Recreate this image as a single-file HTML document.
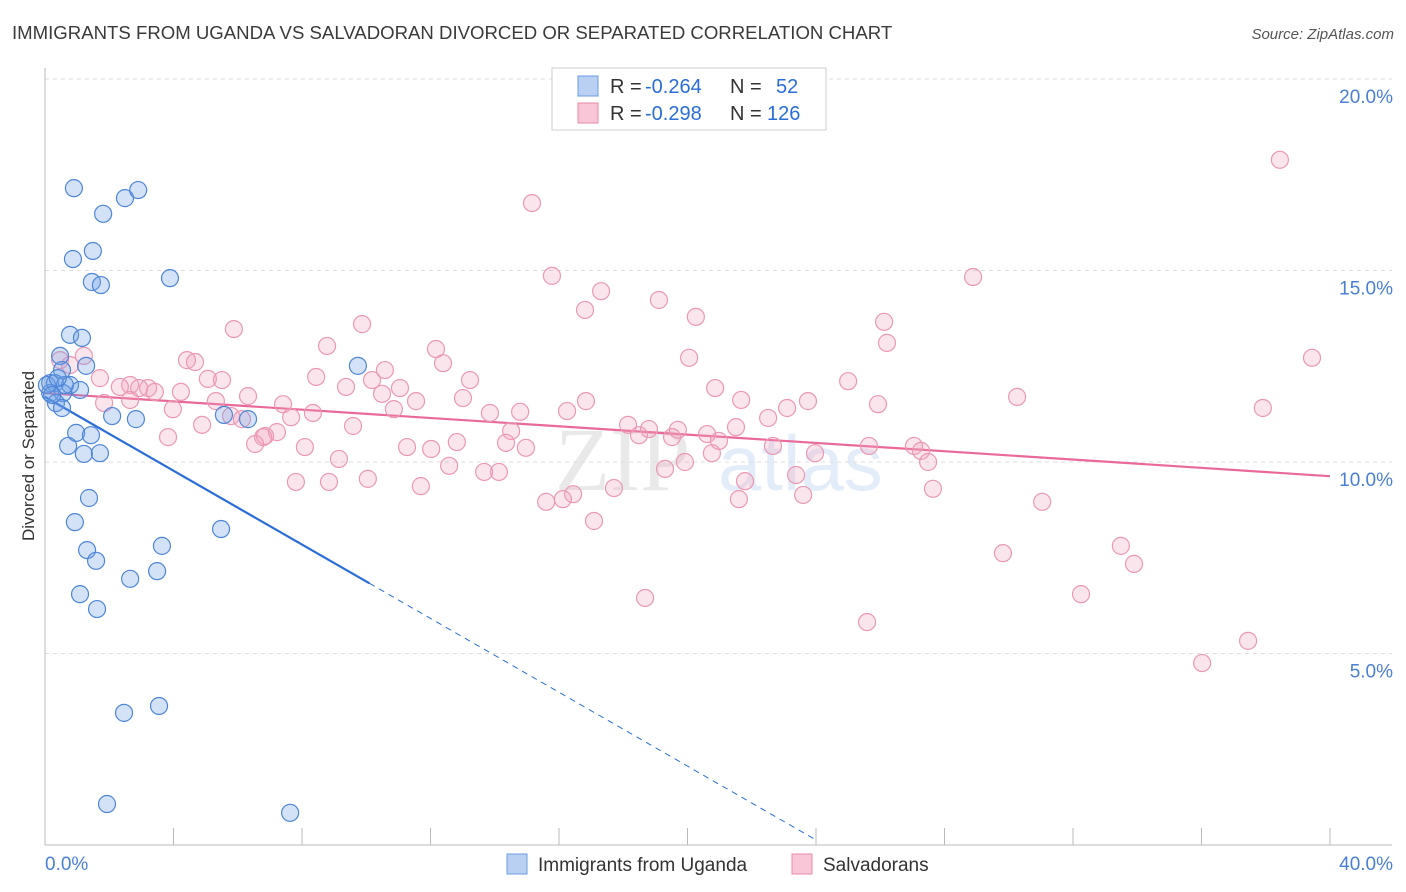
<!DOCTYPE html>
<html><head><meta charset="utf-8"><style>
body{margin:0;background:#fff;font-family:"Liberation Sans",sans-serif;}
svg{display:block}
</style></head><body>
<svg id="chart" width="1406" height="892" xmlns="http://www.w3.org/2000/svg">
<text x="12" y="39" font-size="18.6" fill="#3a3a3a">IMMIGRANTS FROM UGANDA VS SALVADORAN DIVORCED OR SEPARATED CORRELATION CHART</text>
<text x="1394" y="39" font-size="15" fill="#555" font-style="italic" text-anchor="end">Source: ZipAtlas.com</text>
<g opacity="0.18">
<text x="555" y="490" font-size="90" font-family="Liberation Serif" fill="#888">ZIP</text>
<text x="718" y="490" font-size="78" fill="#6a9be0">atlas</text>
</g>
<g id="grid"></g>
<g id="axes"></g>
<g id="lines"></g>
<g id="points"></g>
<text transform="translate(34,456) rotate(-90)" font-size="17" fill="#333" text-anchor="middle">Divorced or Separated</text>
<text x="45" y="870" font-size="19" fill="#4a7fd6">0.0%</text>
<text x="1393" y="870" font-size="19" fill="#4a7fd6" text-anchor="end">40.0%</text>
<g>
<rect x="552" y="68" width="274" height="62" fill="#fff" stroke="#ccc"/>
<rect x="578" y="76" width="20" height="20" fill="#b9d0f3" stroke="#6a9be0"/>
<rect x="578" y="103" width="20" height="20" fill="#f8c6d6" stroke="#e88aaa"/>
<g font-size="20">
<text x="610" y="93" fill="#333">R =</text>
<text x="645" y="93" fill="#2a6dd9">-0.264</text>
<text x="730" y="93" fill="#333">N =</text>
<text x="776" y="93" fill="#2a6dd9">52</text>
</g>
<g font-size="20">
<text x="610" y="120" fill="#333">R =</text>
<text x="645" y="120" fill="#2a6dd9">-0.298</text>
<text x="730" y="120" fill="#333">N =</text>
<text x="767" y="120" fill="#2a6dd9">126</text>
</g>
</g>
<g>
<rect x="507" y="854" width="20" height="20" fill="#b9d0f3" stroke="#6a9be0"/>
<text x="538" y="871" font-size="19" fill="#333">Immigrants from Uganda</text>
<rect x="792" y="854" width="20" height="20" fill="#f8c6d6" stroke="#e88aaa"/>
<text x="823" y="871" font-size="19" fill="#333">Salvadorans</text>
</g>
</svg>
<script>
const yTicks=[5,10,15,20];
const yTickLabels=["5.0%","10.0%","15.0%","20.0%"];
const xTicks=[0,4,8,12,16,20,24,28,32,36,40];
const blueX=[0.90,1.81,2.49,2.90,1.49,0.87,1.46,1.74,3.89,0.78,1.15,0.47,9.74,1.28,0.53,0.16,0.31,0.78,1.09,0.16,0.56,0.34,0.53,2.09,2.83,5.57,6.32,0.97,1.43,0.72,1.21,1.71,1.37,0.93,5.48,1.31,3.64,1.59,2.65,3.49,1.09,1.62,2.46,3.55,1.93,7.63,0.62,0.06,0.22,0.40];
const blueY=[17.15,16.48,16.89,17.10,15.51,15.30,14.70,14.62,14.80,13.32,13.24,12.77,12.51,12.51,12.40,12.06,12.06,12.01,11.88,11.80,11.80,11.54,11.41,11.20,11.12,11.23,11.12,10.76,10.70,10.42,10.21,10.23,9.06,8.43,8.25,7.70,7.81,7.42,6.95,7.15,6.55,6.16,3.45,3.63,1.07,0.84,12.01,12.01,11.75,12.19];
const pinkX=[38.44,15.16,15.78,28.89,17.31,19.11,16.81,20.26,9.87,26.12,5.88,8.78,26.21,12.17,20.05,39.44,4.42,4.67,12.39,10.58,8.44,5.07,5.51,13.23,10.18,25.00,1.21,0.47,0.78,1.71,2.65,9.37,11.05,20.86,2.93,3.21,2.33,3.42,4.23,6.32,10.49,13.01,16.84,23.75,5.32,1.84,2.65,3.98,25.93,30.26,37.91,7.41,10.86,11.55,21.67,23.10,13.85,14.79,16.25,22.51,5.79,8.34,7.66,6.13,18.15,18.49,18.80,9.59,4.89,3.83,7.22,6.85,6.54,6.79,14.51,19.52,19.70,20.61,21.51,20.98,14.35,12.82,14.97,11.27,12.02,8.09,9.15,23.97,25.65,22.66,27.05,27.27,27.49,20.76,12.58,13.67,14.13,19.30,19.92,23.38,21.79,7.81,8.84,10.05,11.70,17.71,27.64,16.44,16.12,15.60,21.60,23.60,31.04,17.09,29.82,33.49,33.90,32.25,18.68,25.59,37.45,36.02];
const pinkY=[17.89,16.76,14.86,14.83,14.46,14.23,13.97,13.79,13.60,13.66,13.47,13.03,13.11,12.95,12.72,12.72,12.66,12.61,12.58,12.40,12.22,12.17,12.14,12.14,12.14,12.11,12.77,12.66,12.53,12.19,12.01,11.96,11.93,11.93,11.93,11.93,11.96,11.83,11.83,11.72,11.78,11.67,11.59,11.59,11.59,11.54,11.62,11.38,11.51,11.70,11.41,11.51,11.38,11.59,11.62,11.41,11.28,11.31,11.33,11.15,11.20,11.28,11.17,11.12,10.97,10.70,10.86,10.94,10.97,10.65,10.78,10.68,10.47,10.65,10.81,10.65,10.84,10.73,10.91,10.55,10.50,10.52,10.37,10.39,10.34,10.39,10.08,10.23,10.42,10.42,10.42,10.29,10.00,10.23,9.90,9.74,9.74,9.82,10.00,9.66,9.50,9.48,9.48,9.56,9.37,9.32,9.30,9.16,9.03,8.96,9.03,9.14,8.96,8.46,7.62,7.81,7.34,6.55,6.45,5.82,5.33,4.75];
const blueTrend={start:11.70,slope:-0.482,solidEnd:10.1,dashEnd:24};
const pinkTrend={start:11.80,end:9.63};
const NS="http://www.w3.org/2000/svg";
const X0=45,X1=1330,Y0=845,Y20=79;
function sx(v){return X0+(X1-X0)*v/40;}
function sy(v){return Y0-(Y0-Y20)*v/20;}
function mk(tag,attrs,parent){const e=document.createElementNS(NS,tag);for(const k in attrs)e.setAttribute(k,attrs[k]);parent.appendChild(e);return e;}
const grid=document.getElementById('grid'),axes=document.getElementById('axes'),lines=document.getElementById('lines'),pts=document.getElementById('points');
yTicks.forEach((t,i)=>{
 const l=mk('line',{x1:45,x2:1392,y1:sy(t),y2:sy(t),stroke:'#ddd','stroke-dasharray':'4,4'},grid);
 
 
 const tx=mk('text',{x:1393,y:sy(t)+24,'font-size':19,fill:'#4a7fd6','text-anchor':'end'},axes);
 tx.textContent=yTickLabels[i];
 
 
});
const ya=mk('line',{x1:45,x2:45,y1:68,y2:845,stroke:'#bbb'},axes);


const xa=mk('line',{x1:45,x2:1392,y1:845,y2:845,stroke:'#bbb'},axes);


xTicks.forEach(t=>{
 const tk=mk('line',{x1:sx(t),x2:sx(t),y1:828,y2:845,stroke:'#bbb'},axes);
 
 
});
pinkX.forEach((x,i)=>{
 const c=mk('circle',{cx:sx(x),cy:sy(pinkY[i]),r:8.5,fill:'rgba(242,160,188,0.28)',stroke:'#eb98b4','stroke-width':1.2},pts);
 
 
});
blueX.forEach((x,i)=>{
 const c=mk('circle',{cx:sx(x),cy:sy(blueY[i]),r:8.5,fill:'rgba(110,160,230,0.3)',stroke:'#4f86d8','stroke-width':1.2},pts);
 
 
});
const pl=mk('line',{x1:sx(0),y1:sy(pinkTrend.start),x2:sx(40),y2:sy(pinkTrend.end),stroke:'#e8699a','stroke-width':2.2},lines);


const bs=mk('line',{x1:sx(0),y1:sy(blueTrend.start),x2:sx(blueTrend.solidEnd),y2:sy(blueTrend.start+blueTrend.slope*blueTrend.solidEnd),stroke:'#2a6dd9','stroke-width':2.2},lines);


const bd=mk('line',{x1:sx(blueTrend.solidEnd),y1:sy(blueTrend.start+blueTrend.slope*blueTrend.solidEnd),x2:sx(blueTrend.dashEnd),y2:sy(blueTrend.start+blueTrend.slope*blueTrend.dashEnd),stroke:'#2a6dd9','stroke-width':1,'stroke-dasharray':'6,5'},lines);


</script>
</body></html>
